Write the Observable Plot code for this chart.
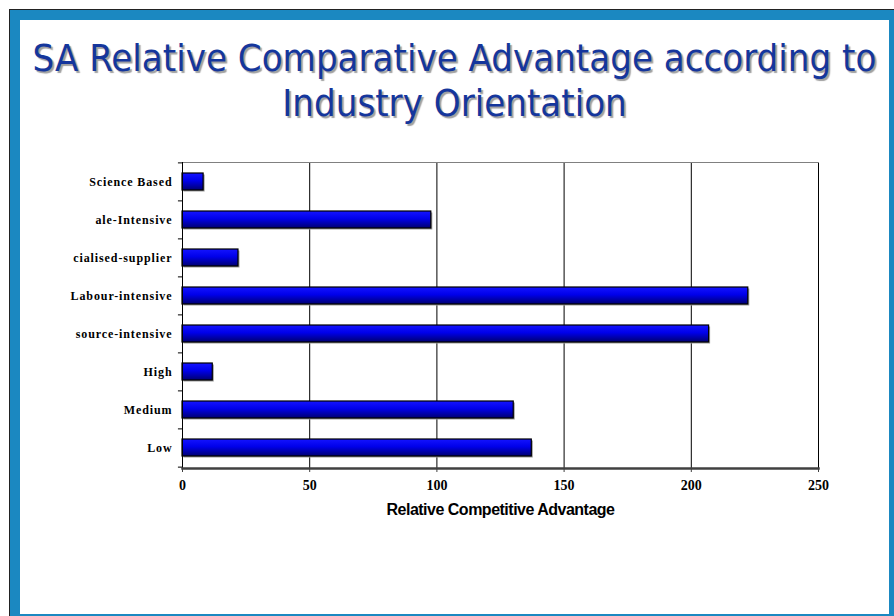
<!DOCTYPE html>
<html>
<head>
<meta charset="utf-8">
<script src="https://cdn.jsdelivr.net/npm/d3@7"></script>
<script src="https://cdn.jsdelivr.net/npm/@observablehq/plot@0.6"></script>
<style>
  html, body { margin: 0; padding: 0; background: #fff; }
  #page { position: relative; width: 894px; height: 616px; overflow: hidden; background: #fff; }
  #frame { position: absolute; left: 9px; top: 9px; width: 885px; height: 607px; background: #1b88c1; border-left: 1.5px solid #222; border-top: 1.5px solid #222; box-sizing: border-box; }
  #inner { position: absolute; left: 20px; top: 20px; width: 869px; height: 594px; background: #fff; }
  #title { position: absolute; left: 20px; width: 869px; top: 36px; text-align: center; font-family: "DejaVu Sans Condensed", "DejaVu Sans", sans-serif; font-size: 38px; line-height: 45px; color: #15369c; text-shadow: 2px 2px 1px #a0a0a0; white-space: nowrap; }
  #chart { position: absolute; left: 0; top: 150px; }
</style>
</head>
<body>
<div id="page">
  <div id="frame"></div>
  <div id="inner"></div>
  <div id="title">SA Relative Comparative Advantage according to<br>Industry Orientation</div>
  <div id="chart"></div>
</div>
<script>
const categories = ["Science Based", "ale-Intensive", "cialised-supplier", "Labour-intensive", "source-intensive", "High", "Medium", "Low"];
const values = [8.3, 97.8, 22, 222.4, 207, 11.9, 130.2, 137.3];
const xTicks = [0, 50, 100, 150, 200, 250];
const xLabel = "Relative Competitive Advantage";

const data = categories.map((c, i) => ({category: c, value: values[i]}));
const step = 306 / categories.length;

const chart = Plot.plot({
  width: 894,
  height: 390,
  marginTop: 12,
  marginBottom: 72,
  marginLeft: 182,
  marginRight: 76,
  style: {background: "transparent", overflow: "visible"},
  x: {domain: [0, 250], ticks: xTicks},
  y: {domain: categories, paddingInner: 0.55, paddingOuter: 0.275},
  marks: [
    Plot.ruleX(xTicks.filter(v => v > 0), {stroke: "#000", strokeWidth: 1}),
    Plot.frame({anchor: "top", stroke: "#808080", strokeWidth: 1}),
    Plot.barX(data, {y: "category", x: "value", fill: "#9a9a9a", dx: 1.5, dy: 1.5}),
    Plot.barX(data, {y: "category", x: "value", fill: "url(#barGrad)", stroke: "#000", strokeWidth: 1.2}),
    Plot.ruleX([0], {stroke: "#000", strokeWidth: 1}),
    Plot.ruleY(categories, {y: d => d, x1: 0, x2: -1.6, dy: -step / 2, stroke: "#000", strokeWidth: 1}),
    Plot.ruleY(categories.slice(-1), {y: d => d, x1: 0, x2: -1.6, dy: step / 2, stroke: "#000", strokeWidth: 1}),
    Plot.axisY({tickSize: 0, tickPadding: 10, fontFamily: "Liberation Serif, serif", fontWeight: "bold", fontSize: 12, label: null}),
    Plot.axisX({ticks: xTicks, tickSize: 4, tickPadding: 8, stroke: "#404040", fontFamily: "Liberation Serif, serif", fontWeight: "bold", fontSize: 14, label: null}),
    Plot.frame({anchor: "bottom", stroke: "#404040", strokeWidth: 2.5}),
    Plot.text([xLabel], {frameAnchor: "bottom", dy: 46, fontFamily: "Liberation Sans, Arial, sans-serif", fontWeight: "bold", fontSize: 16, fill: "#000"})
  ]
});

const svg = d3.select(chart.tagName === "svg" ? chart : chart.querySelector("svg"));
svg.selectAll("text").attr("fill", "#000");
svg.selectAll('[aria-label="y-axis tick label"] text').style("letter-spacing", "0.9px");
svg.selectAll('[aria-label="text"] text').style("letter-spacing", "-0.5px");
const grad = svg.insert("defs", ":first-child").append("linearGradient")
  .attr("id", "barGrad").attr("x1", 0).attr("y1", 0).attr("x2", 0).attr("y2", 1);
grad.append("stop").attr("offset", "0%").attr("stop-color", "#1414ff");
grad.append("stop").attr("offset", "45%").attr("stop-color", "#0000ea");
grad.append("stop").attr("offset", "100%").attr("stop-color", "#000070");

document.getElementById("chart").appendChild(chart);
</script>
</body>
</html>
